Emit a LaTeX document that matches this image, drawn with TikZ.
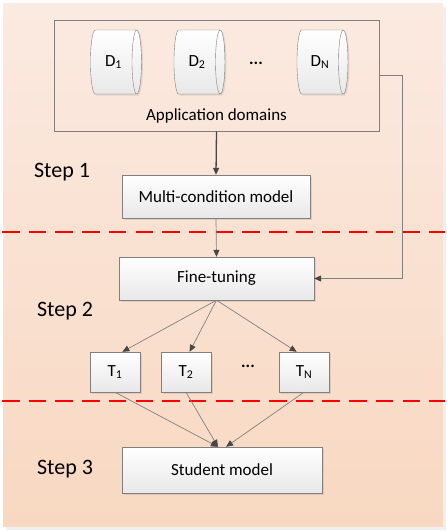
\documentclass[tikz,border=0pt]{standalone}
\usepackage{fontspec}
\setmainfont{Carlito}
\usetikzlibrary{positioning, shapes.geometric, shadows, arrows.meta}

\definecolor{bgtop}{RGB}{251,234,225}
\definecolor{bgbot}{RGB}{248,216,193}
\definecolor{edgegray}{RGB}{128,128,128}
\definecolor{tipgray}{RGB}{70,70,70}
\definecolor{cutred}{RGB}{255,0,0}

\begin{document}
\begin{tikzpicture}
[
    x=1pt, y=-1pt, node distance=0.3cm,
    % Coordinates are read off the 447x531 layout, y grows downwards
    % Domains are named D-1, D-2, D-N and teachers T-1, T-2, T-N
    font=\fontsize{17}{20}\selectfont
]

%=================================== Start ===================================
\tikzstyle{box}  = [draw=edgegray, top color=white, bottom color=black!9, inner sep=0pt,
                    drop shadow={shadow xshift=1.5pt, shadow yshift=-1.5pt, opacity=0.2}]
\tikzstyle{db}   = [box, cylinder, shape border rotate=0, aspect=0.7,
                    minimum width=64pt, minimum height=51pt]
\tikzstyle{teacher}   = [box, minimum width=50pt, minimum height=40pt]
\tikzstyle{steplabel} = [font=\fontsize{22}{26}\selectfont]
\tikzstyle{link} = [draw=edgegray, line width=0.7pt,
                    -{Triangle[length=7pt, width=6pt, color=tipgray]}]
\tikzstyle{cut}  = [draw=cutred, line width=2.2pt, dash pattern=on 17.5pt off 9.2pt]

\useasboundingbox (0,0) rectangle (447,531);
% Background panel
\fill[top color=bgtop, bottom color=bgbot,
      drop shadow={shadow xshift=3pt, shadow yshift=-4pt, opacity=0.12}]
    (3,3) rectangle (443,526);

{
    % Application domains
    \node[draw=edgegray, line width=0.7pt, minimum width=325pt, minimum height=111pt]
          (domains) at (216.5,75.5) {};
    \node (domains-text) at (216.5,116) {Application domains};
    \foreach \x / \idx / \sub in {113.5/1/1, 197/2/2, 320/N/N}
        \node[db] (D-\idx) at (\x,62) {D\textsubscript{\sub}};
    \node (D-dots) at (256,63) {\textbf{...}};

    % Step labels
    \node[steplabel] (step-1) at (62,172) {Step 1};
    \node[steplabel] (step-2) at (65,311) {Step 2};
    \node[steplabel] (step-3) at (65,469) {Step 3};

    % Models
    \node[box, minimum width=188pt, minimum height=43pt] (multi) at (216,196.5)
          {Multi-condition model};
    \node[box, minimum width=195pt, minimum height=43pt] (fine) at (216.5,278.5)
          {Fine-tuning};
    \foreach \x / \idx / \sub in {115/1/1, 186/2/2, 304/N/N}
        \node[teacher] (T-\idx) at (\x,372) {T\textsubscript{\sub}};
    \node (T-dots) at (248,366) {\textbf{...}};
    \node[box, minimum width=200pt, minimum height=46pt] (student) at (222,470)
          {Student model};

    % Step borders
    \coordinate (cut-1-w) at (2,232);   \coordinate (cut-1-e) at (445,232);
    \coordinate (cut-2-w) at (2,401);   \coordinate (cut-2-e) at (445,401);
    \path (cut-1-w) edge[cut] (cut-1-e);
    \path (cut-2-w) edge[cut] (cut-2-e);

    % Connections
    \path (domains.south) edge[link, line width=1.3pt, draw=tipgray] (multi.north);
    \path (multi.south)   edge[link] (fine.north);
    \coordinate (bend) at (402,75.5);
    \draw[link] (domains.east) -- (bend) |- (fine.east);

    \foreach \idx / \a in {1/70, 2/80, N/110}
        \path (fine.south) edge[link] (T-\idx.\a);
    \foreach \idx / \a in {1/100, 2/100, N/80}
        \path (T-\idx.south) edge[link] (student.\a);
}
%==================================== END ====================================

\end{tikzpicture}
\end{document}
